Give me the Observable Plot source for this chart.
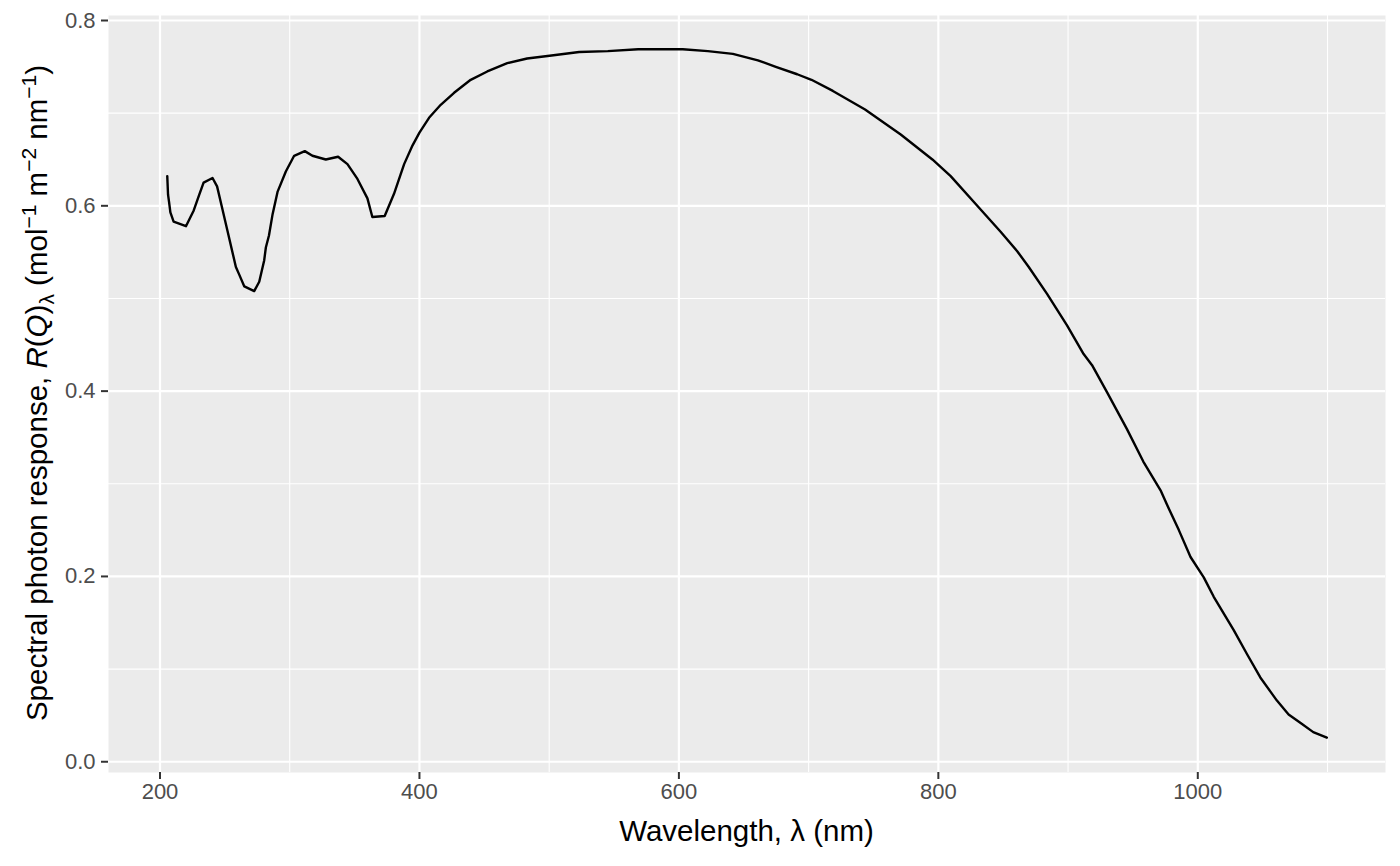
<!DOCTYPE html>
<html>
<head>
<meta charset="utf-8">
<script src="https://cdn.jsdelivr.net/npm/d3@7"></script>
<script src="https://cdn.jsdelivr.net/npm/@observablehq/plot@0.6"></script>
<style>
  html, body { margin: 0; padding: 0; background: #ffffff; }
  #chart svg { display: block; }
</style>
</head>
<body>
<div id="chart"></div>
<script>
// Wavelength (nm)
const wavelength = [
  205.6, 206.2, 207.0, 208.0, 210.5, 220.0, 226.0, 230.0, 233.6, 240.5,
  244.0, 247.5, 252.0, 258.5, 261.0, 265.0, 272.6, 276.5, 280.3, 281.6,
  284.0, 286.8, 290.6, 297.0, 303.4, 311.6, 317.5, 327.8, 337.3, 344.5,
  352.2, 359.9, 363.7, 373.2, 380.4, 385.5, 388.2, 394.6, 400.0, 407.4,
  416.4, 426.7, 439.5, 452.3, 467.7, 483.0, 500.3, 523.1, 545.2, 568.6,
  603.0, 622.3, 641.6, 660.9, 674.7, 691.2, 702.2, 718.7, 743.5, 771.0,
  795.4, 809.5, 830.0, 848.0, 860.8, 869.7, 883.8, 899.2, 912.0, 918.5,
  930.0, 945.4, 958.0, 971.3, 976.4, 985.4, 994.4, 1004.6, 1012.3, 1027.7,
  1038.0, 1048.2, 1061.0, 1070.0, 1079.0, 1089.0, 1099.5
];
// Spectral photon response R(Q)_lambda (mol-1 m-2 nm-1)
const response = [
  0.632, 0.612, 0.604, 0.593, 0.583, 0.578, 0.595, 0.611, 0.625, 0.630,
  0.621, 0.600, 0.573, 0.534, 0.526, 0.513, 0.508, 0.518, 0.541, 0.555,
  0.568, 0.591, 0.615, 0.637, 0.654, 0.659, 0.654, 0.650, 0.653, 0.645,
  0.629, 0.608, 0.588, 0.589, 0.613, 0.634, 0.645, 0.665, 0.679, 0.695,
  0.709, 0.722, 0.736, 0.745, 0.754, 0.759, 0.762, 0.766, 0.767, 0.769,
  0.769, 0.767, 0.764, 0.757, 0.750, 0.742, 0.736, 0.724, 0.704, 0.677,
  0.650, 0.632, 0.600, 0.572, 0.551, 0.534, 0.505, 0.471, 0.440, 0.428,
  0.399, 0.359, 0.324, 0.293, 0.277, 0.250, 0.221, 0.199, 0.178, 0.142,
  0.116, 0.091, 0.066, 0.051, 0.042, 0.032, 0.026
];

const xMajorTicks = [200, 400, 600, 800, 1000];
const xMinorBreaks = [300, 500, 700, 900, 1100];
const yMajorTicks = [0.0, 0.2, 0.4, 0.6, 0.8];
const yMinorBreaks = [0.1, 0.3, 0.5, 0.7];

const xTitle = "Wavelength, λ (nm)";

const series = wavelength.map((w, i) => ({ w, r: response[i] }));

const fontFamily = "'Liberation Sans', Arial, Helvetica, sans-serif";

const plot = Plot.plot({
  width: 1400,
  height: 866,
  marginLeft: 108,
  marginRight: 15,
  marginTop: 15,
  marginBottom: 94,
  style: { fontFamily, background: "#ffffff", overflow: "visible" },
  x: { domain: [160.3, 1144.7] },
  y: { domain: [-0.0116, 0.8054] },
  marks: [
    Plot.frame({ fill: "#EBEBEB", stroke: null }),
    Plot.ruleX(xMinorBreaks, { stroke: "#ffffff", strokeWidth: 1.1 }),
    Plot.ruleY(yMinorBreaks, { stroke: "#ffffff", strokeWidth: 1.1 }),
    Plot.ruleX(xMajorTicks, { stroke: "#ffffff", strokeWidth: 2.2 }),
    Plot.ruleY(yMajorTicks, { stroke: "#ffffff", strokeWidth: 2.2 }),
    Plot.axisX({
      ticks: xMajorTicks, tickFormat: d => String(d), tickSize: 7, tickPadding: 4,
      fontSize: 22, fill: "#4D4D4D", stroke: "#333333", strokeWidth: 2, label: null
    }),
    Plot.axisY({
      ticks: yMajorTicks, tickFormat: d3.format(".1f"), tickSize: 7, tickPadding: 6,
      fontSize: 22, fill: "#4D4D4D", stroke: "#333333", strokeWidth: 2, label: null
    }),
    Plot.line(series, { x: "w", y: "r", stroke: "#000000", strokeWidth: 2.4 })
  ]
});

document.getElementById("chart").appendChild(plot);

const svg = d3.select(plot);

// x-axis title
svg.append("text")
  .attr("x", 746.5)
  .attr("y", 841)
  .attr("text-anchor", "middle")
  .attr("font-family", fontFamily)
  .attr("font-size", 29.5)
  .attr("fill", "#000000")
  .text(xTitle);

// y-axis title with plotmath-style sub/superscripts
const yt = svg.append("text")
  .attr("transform", "translate(47,393) rotate(-90)")
  .attr("text-anchor", "middle")
  .attr("font-family", fontFamily)
  .attr("font-size", 29.5)
  .attr("fill", "#000000");
const parts = [
  { t: "Spectral photon response, " },
  { t: "R", italic: true },
  { t: "(" },
  { t: "Q", italic: true },
  { t: ")" },
  { t: "λ", sub: true },
  { t: " (mol" },
  { t: "−1", sup: true },
  { t: " m" },
  { t: "−2", sup: true },
  { t: " nm" },
  { t: "−1", sup: true },
  { t: ")" }
];
let shift = 0;
for (const p of parts) {
  const target = p.sub ? 7 : p.sup ? -11 : 0;
  const ts = yt.append("tspan").text(p.t);
  if (target !== shift) { ts.attr("dy", target - shift); shift = target; }
  if (p.italic) ts.attr("font-style", "italic");
  if (p.sub || p.sup) ts.attr("font-size", 21);
}
</script>
</body>
</html>
